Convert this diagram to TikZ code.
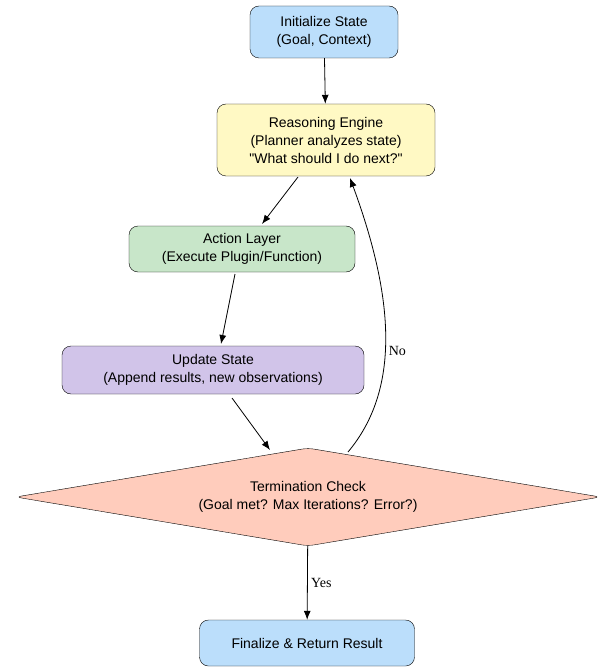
\documentclass[tikz,border=0pt]{standalone}
\usepackage{fontspec}
\setmainfont{Liberation Serif}
\newfontfamily\boxfont{Liberation Sans}
\usetikzlibrary{arrows.meta}
\usetikzlibrary{shapes.geometric}
\definecolor{stateblue}{HTML}{BBDEFB}
\definecolor{reasonyellow}{HTML}{FFF9C4}
\definecolor{actiongreen}{HTML}{C8E6C9}
\definecolor{updatepurple}{HTML}{D1C4E9}
\definecolor{checkorange}{HTML}{FFCCBC}
\tikzset{
stepbox/.style={draw=black, rounded corners=9pt, align=center, inner sep=0pt,
  font=\boxfont\fontsize{14}{18}\selectfont},
flow/.style={-{Latex[length=9pt,width=7pt]}, line width=0.8pt}
}

\begin{document}
\begin{tikzpicture}[x=1pt,y=-1pt]
    \useasboundingbox (0,0) rectangle (615,671);

                \node[stepbox, fill=stateblue, minimum width=148pt, minimum height=52pt] (init) at (324,32) {Initialize State\\(Goal, Context)};
                \node[stepbox, fill=reasonyellow, minimum width=218pt, minimum height=72pt] (reason) at (326,140) {Reasoning Engine\\(Planner analyzes state)\\"What should I do next?"};
                \node[stepbox, fill=actiongreen, minimum width=226pt, minimum height=46pt] (action) at (242,249) {Action Layer\\(Execute Plugin/Function)};
                \node[stepbox, fill=updatepurple, minimum width=302pt, minimum height=48pt] (update) at (213,370) {Update State\\(Append results, new observations)};
                \node[diamond, draw=black, fill=checkorange, rounded corners=6pt, aspect=6, inner sep=0pt, minimum width=585pt, minimum height=98pt, align=center, font=\boxfont\fontsize{14}{18}\selectfont] (check) at (308,497) {Termination Check\\(Goal met? Max Iterations? Error?)};
                \node[stepbox, fill=stateblue, minimum width=215pt, minimum height=46pt] (final) at (307,643) {Finalize \& Return Result};

                \draw[flow] (init) -- (reason);
                \draw[flow] (298,177) -- (262,224);
                \draw[flow] (235,274) -- (221,344);
                \draw[flow] (232,398) -- (270,450);
                \draw[flow] (348,452) .. controls (400,390) and (395,300) .. (350,178) node[pos=0.45, right, font=\fontsize{14}{16}\selectfont] {No};
                \draw[flow] (check) -- (final) node[midway, right, font=\fontsize{14}{16}\selectfont] {Yes};

            \end{tikzpicture}
\end{document}
